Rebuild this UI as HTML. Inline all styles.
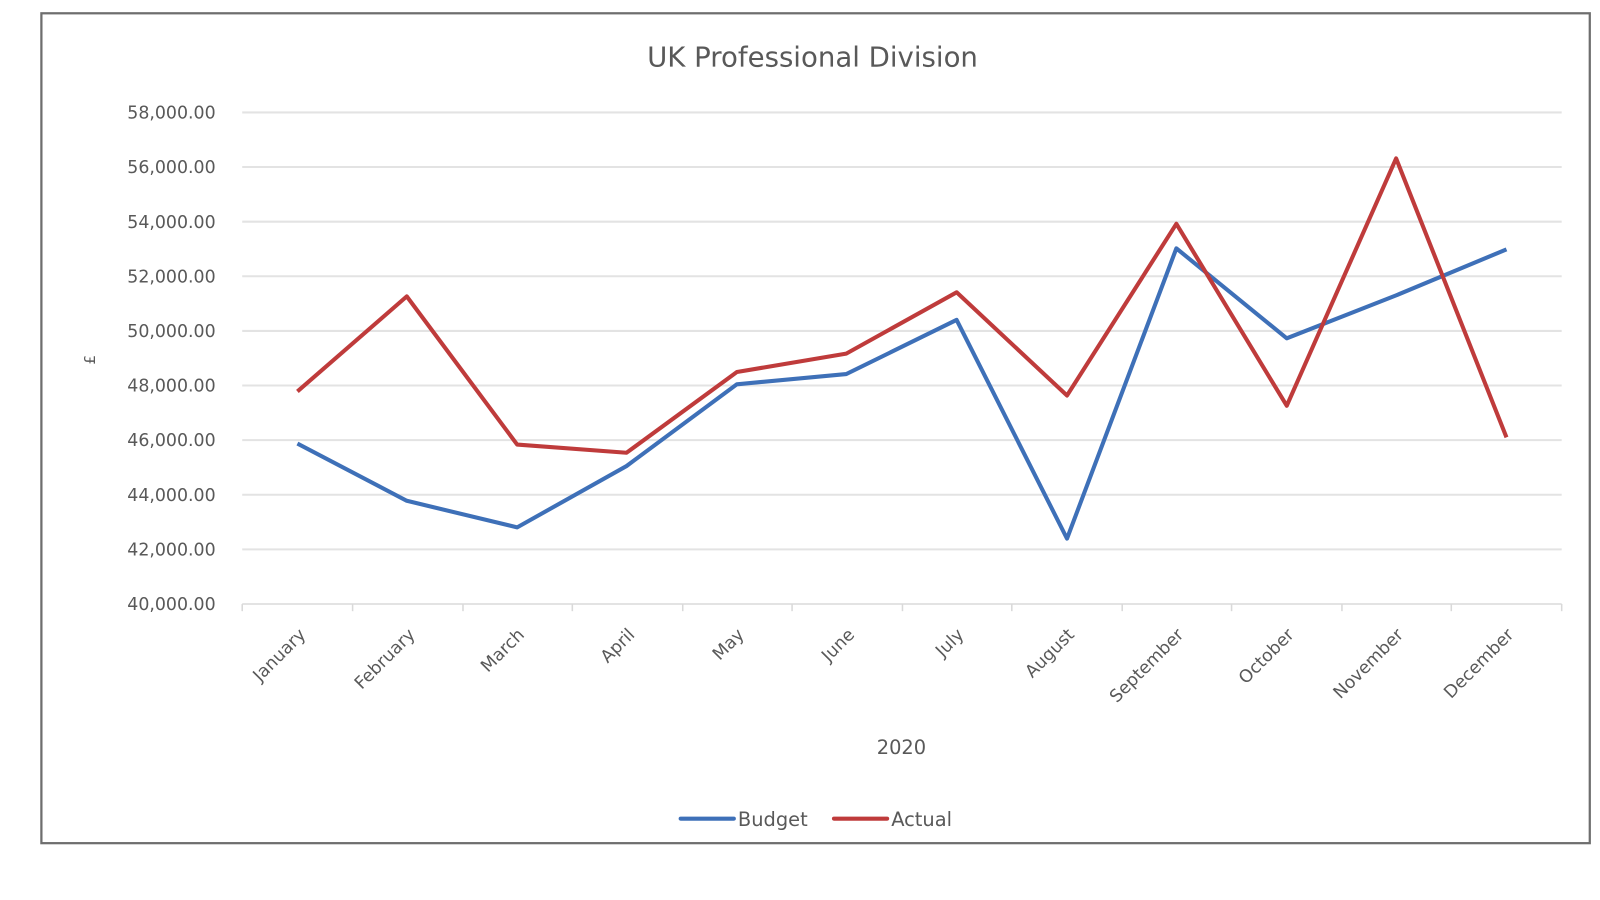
<!DOCTYPE html>
<html><head><meta charset="utf-8"><style>
html,body{margin:0;padding:0;background:#fff;}
svg{display:block;}
text{font-family:"DejaVu Sans","Liberation Sans",sans-serif;fill:#595959;}
</style></head><body>
<svg width="1600" height="900" viewBox="0 0 1565.5 880.6" preserveAspectRatio="none">
<rect x="40.5" y="13" width="1515" height="812" fill="#fff" stroke="#6e6e6e" stroke-width="2.2"/>
<text x="795" y="65" font-size="27" text-anchor="middle">UK Professional Division</text>
<g stroke="#e3e3e3" stroke-width="2">
<line x1="237" x2="1528" y1="110" y2="110"/>
<line x1="237" x2="1528" y1="163.4" y2="163.4"/>
<line x1="237" x2="1528" y1="216.9" y2="216.9"/>
<line x1="237" x2="1528" y1="270.3" y2="270.3"/>
<line x1="237" x2="1528" y1="323.8" y2="323.8"/>
<line x1="237" x2="1528" y1="377.2" y2="377.2"/>
<line x1="237" x2="1528" y1="430.6" y2="430.6"/>
<line x1="237" x2="1528" y1="484.1" y2="484.1"/>
<line x1="237" x2="1528" y1="537.5" y2="537.5"/>
<line x1="237" x2="1528" y1="591" y2="591"/>
</g>
<g stroke="#d9d9d9" stroke-width="1.5">
<line x1="237" x2="237" y1="591" y2="598"/><line x1="345" x2="345" y1="591" y2="598"/>
<line x1="453" x2="453" y1="591" y2="598"/><line x1="560" x2="560" y1="591" y2="598"/>
<line x1="668" x2="668" y1="591" y2="598"/><line x1="775" x2="775" y1="591" y2="598"/>
<line x1="883" x2="883" y1="591" y2="598"/><line x1="990" x2="990" y1="591" y2="598"/>
<line x1="1098" x2="1098" y1="591" y2="598"/><line x1="1205" x2="1205" y1="591" y2="598"/>
<line x1="1313" x2="1313" y1="591" y2="598"/><line x1="1420" x2="1420" y1="591" y2="598"/>
<line x1="1528" x2="1528" y1="591" y2="598"/>
</g>
<g font-size="17" text-anchor="end">
<text x="211" y="116">58,000.00</text>
<text x="211" y="169.4">56,000.00</text>
<text x="211" y="222.9">54,000.00</text>
<text x="211" y="276.3">52,000.00</text>
<text x="211" y="329.8">50,000.00</text>
<text x="211" y="383.2">48,000.00</text>
<text x="211" y="436.6">46,000.00</text>
<text x="211" y="490.1">44,000.00</text>
<text x="211" y="543.5">42,000.00</text>
<text x="211" y="597">40,000.00</text>
</g>
<text x="0" y="0" font-size="15" text-anchor="middle" transform="translate(93,352) rotate(-90)">£</text>
<g font-size="17" text-anchor="end">
<text transform="translate(300,622) rotate(-45)">January</text>
<text transform="translate(407,622) rotate(-45)">February</text>
<text transform="translate(514,622) rotate(-45)">March</text>
<text transform="translate(622,622) rotate(-45)">April</text>
<text transform="translate(729,622) rotate(-45)">May</text>
<text transform="translate(837,622) rotate(-45)">June</text>
<text transform="translate(944,622) rotate(-45)">July</text>
<text transform="translate(1052,622) rotate(-45)">August</text>
<text transform="translate(1159,622) rotate(-45)">September</text>
<text transform="translate(1267,622) rotate(-45)">October</text>
<text transform="translate(1374,622) rotate(-45)">November</text>
<text transform="translate(1482,622) rotate(-45)">December</text>
</g>
<text x="882" y="738" font-size="19" text-anchor="middle">2020</text>
<polyline fill="none" stroke="#3e70b8" stroke-width="4" stroke-linejoin="round" points="291,434 398,490 506,516 613,456 721,376 828,366 936,313 1044,527 1151,243 1259,331 1366,289 1474,244"/>
<polyline fill="none" stroke="#bf3b3b" stroke-width="4" stroke-linejoin="round" points="291,383 398,290 506,435 613,443 721,364 828,346 936,286 1044,387 1151,219 1259,397 1366,155 1474,428"/>
<line x1="666" x2="718" y1="801" y2="801" stroke="#3e70b8" stroke-width="4" stroke-linecap="round"/>
<text x="722" y="808" font-size="19">Budget</text>
<line x1="816" x2="868" y1="801" y2="801" stroke="#bf3b3b" stroke-width="4" stroke-linecap="round"/>
<text x="872" y="808" font-size="19">Actual</text>
</svg>
</body></html>
